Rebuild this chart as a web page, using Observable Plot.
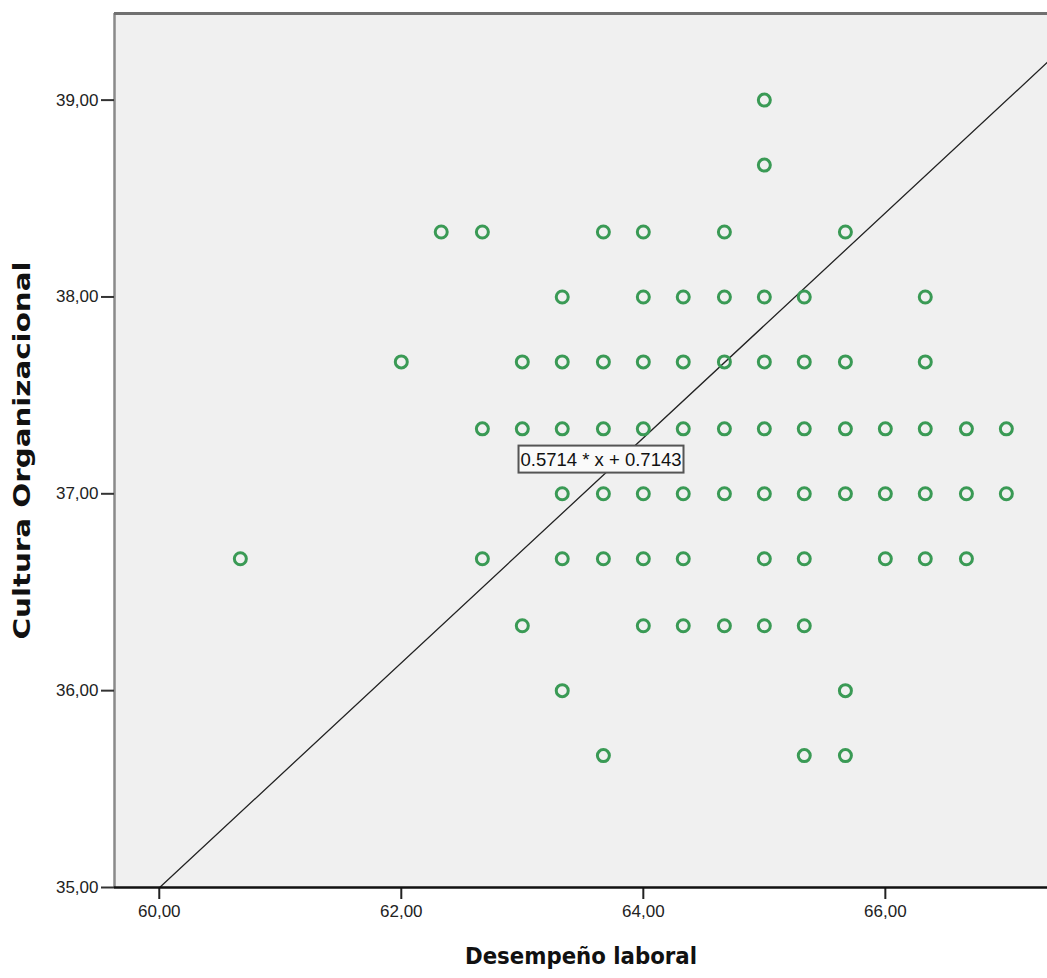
<!DOCTYPE html>
<html>
<head>
<meta charset="utf-8">
<script src="https://cdn.jsdelivr.net/npm/d3@7"></script>
<script src="https://cdn.jsdelivr.net/npm/@observablehq/plot@0.6"></script>
<style>
  body { margin: 0; background: #ffffff; }
  #chart svg { display: block; }
</style>
</head>
<body>
<div id="chart"></div>
<script>
// Desempeño laboral (x) and Cultura Organizacional (y)
const desempeno = [
  65,
  65,
  62.33, 62.67, 63.67, 64, 64.67, 65.67,
  63.33, 64, 64.33, 64.67, 65, 65.33, 66.33,
  62, 63, 63.33, 63.67, 64, 64.33, 64.67, 65, 65.33, 65.67, 66.33,
  62.67, 63, 63.33, 63.67, 64, 64.33, 64.67, 65, 65.33, 65.67, 66, 66.33, 66.67, 67,
  63.33, 63.67, 64, 64.33, 64.67, 65, 65.33, 65.67, 66, 66.33, 66.67, 67,
  60.67, 62.67, 63.33, 63.67, 64, 64.33, 65, 65.33, 66, 66.33, 66.67,
  63, 64, 64.33, 64.67, 65, 65.33,
  63.33, 65.67,
  63.67, 65.33, 65.67
];
const cultura = [
  39,
  38.67,
  38.33, 38.33, 38.33, 38.33, 38.33, 38.33,
  38, 38, 38, 38, 38, 38, 38,
  37.67, 37.67, 37.67, 37.67, 37.67, 37.67, 37.67, 37.67, 37.67, 37.67, 37.67,
  37.33, 37.33, 37.33, 37.33, 37.33, 37.33, 37.33, 37.33, 37.33, 37.33, 37.33, 37.33, 37.33, 37.33,
  37, 37, 37, 37, 37, 37, 37, 37, 37, 37, 37, 37,
  36.67, 36.67, 36.67, 36.67, 36.67, 36.67, 36.67, 36.67, 36.67, 36.67, 36.67,
  36.33, 36.33, 36.33, 36.33, 36.33, 36.33,
  36, 36,
  35.67, 35.67, 35.67
];

// Reference line y = slope * x + intercept
const slope = 0.5714;
const intercept = 0.7143;
const lineStartX = 60;
const equationLabel = "0.5714 * x + 0.7143";
const equationAtX = 63.7;

const xTicks = [60, 62, 64, 66];
const yTicks = [35, 36, 37, 38, 39];
const xDomain = [59.63, 67.34];
const yDomain = [35, 39.44];
const xTitle = "Desempeño laboral";
const yTitle = "Cultura Organizacional";

const points = desempeno.map((d, i) => ({x: d, y: cultura[i]}));
const lineXs = [lineStartX, xDomain[1]];
const fmt = d => d.toFixed(2).replace(".", ",");

const chart = Plot.plot({
  width: 1047,
  height: 978,
  marginLeft: 114,
  marginTop: 13,
  marginRight: 0,
  marginBottom: 91,
  style: {fontFamily: "'Liberation Sans', Arial, sans-serif", fontSize: "17px", color: "#222", background: "#ffffff"},
  x: {domain: xDomain, ticks: xTicks},
  y: {domain: yDomain, ticks: yTicks},
  marks: [
    Plot.frame({fill: "#f0f0f0", stroke: null}),
    Plot.ruleX([xDomain[0]], {stroke: "#8a8a8a", strokeWidth: 2.5}),
    Plot.ruleY([yDomain[1]], {stroke: "#707070", strokeWidth: 3}),
    Plot.line(lineXs, {x: d => d, y: d => slope * d + intercept, stroke: "#222", strokeWidth: 1.3, clip: true}),
    Plot.dot(points, {x: "x", y: "y", r: 6, stroke: "#3a9a55", strokeWidth: 3, fill: "none"}),
    Plot.text([equationLabel], {
      x: equationAtX, y: equationAtX * slope + intercept, dx: -6, dy: -12,
      text: d => d, fontSize: 18.5, fill: "#111", className: "eq",
      fontFamily: "'Liberation Sans', Arial, sans-serif"
    }),
    Plot.axisX({ticks: xTicks, tickFormat: fmt, tickSize: 12, tickPadding: 5, stroke: "#222", strokeWidth: 2, label: null, fontSize: 17}),
    Plot.axisY({ticks: yTicks, tickFormat: fmt, tickSize: 13, tickPadding: 3, stroke: "#333", strokeWidth: 2, label: null, fontSize: 17}),
    Plot.ruleY([yDomain[0]], {stroke: "#111", strokeWidth: 2.5}),
    Plot.text([xTitle], {frameAnchor: "bottom", dy: 76, text: d => d, fontSize: 23, fontWeight: "bold",
      fontFamily: "'DejaVu Sans Condensed', 'DejaVu Sans', sans-serif", fill: "#111", className: "xtitle"}),
    Plot.text([yTitle], {frameAnchor: "left", dx: -92, rotate: -90, text: d => d, fontSize: 23, fontWeight: "bold",
      fontFamily: "'DejaVu Sans Condensed', 'DejaVu Sans', sans-serif", fill: "#111", className: "ytitle"})
  ]
});

document.getElementById("chart").append(chart);

// Box behind the equation label
const eqText = chart.querySelector("g.eq text");
if (eqText) {
  const bb = eqText.getBBox();
  const rect = document.createElementNS("http://www.w3.org/2000/svg", "rect");
  rect.setAttribute("x", bb.x - 2);
  rect.setAttribute("y", bb.y - 3);
  rect.setAttribute("width", bb.width + 4);
  rect.setAttribute("height", bb.height + 6);
  rect.setAttribute("fill", "#fafafa");
  rect.setAttribute("stroke", "#555");
  rect.setAttribute("stroke-width", 2);
  const tr = eqText.getAttribute("transform");
  if (tr) rect.setAttribute("transform", tr);
  eqText.parentNode.insertBefore(rect, eqText);
}
// Stretch titles to the lengths seen in the picture (anchored at start for predictable placement)
function stretch(sel, len) {
  const t = chart.querySelector(sel);
  if (!t) return;
  t.setAttribute("text-anchor", "start");
  t.setAttribute("x", -len / 2);
  t.setAttribute("textLength", len);
  t.setAttribute("lengthAdjust", "spacingAndGlyphs");
}
stretch("g.ytitle text", 378);
stretch("g.xtitle text", 232);
</script>
</body>
</html>
